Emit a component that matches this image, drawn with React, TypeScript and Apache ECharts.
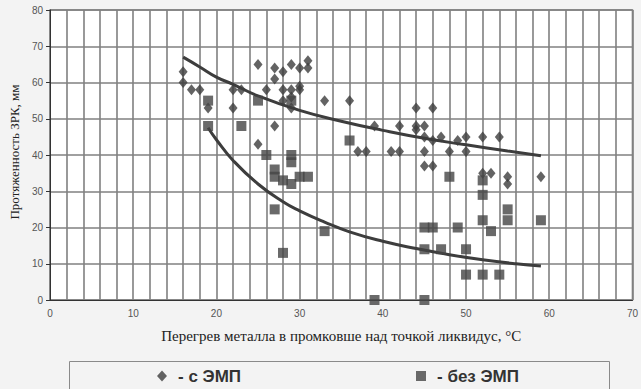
import React, { useEffect, useRef } from "react";
import * as echarts from "echarts";

const withEmpX = [16, 16, 17, 18, 19, 22, 22, 23, 25, 25, 26, 27, 27, 27, 28, 28, 28, 29, 29, 29, 29, 30, 30, 30, 31, 31, 33, 36, 37, 38, 39, 41, 42, 42, 44, 44, 44, 45, 45, 45, 45, 46, 46, 46, 47, 48, 49, 50, 50, 52, 52, 53, 54, 55, 55, 59];
const withEmpY = [63, 60, 58, 58, 53, 58, 53, 58, 65, 43, 58, 64, 61, 48, 63, 58, 55, 65, 58, 56, 53, 64, 59, 58, 66, 64, 55, 55, 41, 41, 48, 41, 48, 41, 53, 48, 47, 48, 45, 41, 37, 53, 44, 37, 45, 41, 44, 45, 41, 45, 35, 35, 45, 34, 32, 34];

const noEmpX = [19, 19, 23, 25, 26, 27, 27, 27, 28, 28, 29, 29, 29, 29, 30, 31, 33, 36, 39, 45, 45, 45, 46, 47, 48, 49, 50, 50, 52, 52, 52, 52, 53, 54, 55, 55, 59];
const noEmpY = [55, 48, 48, 55, 40, 36, 34, 25, 33, 13, 55, 40, 38, 32, 34, 34, 19, 44, 0, 20, 14, 0, 20, 14, 34, 20, 14, 7, 33, 29, 22, 7, 19, 7, 25, 22, 22];

const trendWithX = [16, 18, 20, 22, 25, 30, 35, 40, 45, 50, 55, 59];
const trendWithY = [67, 64.3, 61.5, 59.5, 56.3, 52.3, 49.3, 46.8, 44.6, 42.8, 41.1, 39.8];

const trendNoX = [19, 20, 22, 25, 28, 30, 33, 36, 40, 44, 48, 52, 56, 59];
const trendNoY = [47.5, 44.2, 38.5, 32, 27.1, 24.6, 21.5, 18.8, 16.2, 14.2, 12.5, 11.1, 10, 9.4];

const xTicks = [0, 10, 20, 30, 40, 50, 60, 70];
const yTicks = [0, 10, 20, 30, 40, 50, 60, 70, 80];

const nameWith = "- с ЭМП";
const nameNo = "- без ЭМП";

const zip = (xs: number[], ys: number[]) => xs.map((x, i) => [x, ys[i]]);

export default function App() {
  const ref = useRef<HTMLDivElement>(null);
  useEffect(() => {
    if (!ref.current) return;
    const chart = echarts.init(ref.current, null, { renderer: "svg" });
    const gridColor = "#808080";
    const labelFont = {
      color: "#555",
      fontSize: 10,
      fontFamily: "'Liberation Sans Narrow', 'Arial Narrow', 'Liberation Sans', sans-serif",
    };
    const legendText = {
      color: "#333",
      fontSize: 17,
      fontWeight: "bold",
      fontFamily: "'Liberation Sans', Arial, sans-serif",
      padding: [0, 0, 0, 6],
      lineHeight: 18,
    };
    const xMin = xTicks[0];
    const xMax = xTicks[xTicks.length - 1];
    const yMin = yTicks[0];
    const yMax = yTicks[yTicks.length - 1];
    chart.setOption({
      animation: false,
      backgroundColor: "#f3f3f3",
      grid: {
        left: 44.5,
        right: 4,
        top: 10,
        bottom: 89,
        show: true,
        backgroundColor: "#ffffff",
        borderColor: gridColor,
        borderWidth: 1.5,
      },
      xAxis: {
        type: "value",
        min: xMin,
        max: xMax,
        interval: 2,
        name: "Перегрев металла в промковше над точкой ликвидус, °С",
        nameLocation: "middle",
        nameGap: 28,
        nameTextStyle: {
          color: "#222",
          fontSize: 15,
          fontFamily: "'Liberation Serif', 'Times New Roman', serif",
        },
        axisLine: { show: true, lineStyle: { color: "#333", width: 1 } },
        axisTick: { show: false },
        axisLabel: {
          ...labelFont,
          margin: 8,
          formatter: (v: number) => (xTicks.indexOf(v) >= 0 ? String(v) : ""),
        },
        splitLine: { show: true, lineStyle: { color: gridColor, width: 1.6 } },
      },
      yAxis: {
        type: "value",
        min: yMin,
        max: yMax,
        interval: 10,
        name: "Протяженность ЗРК, мм",
        nameLocation: "middle",
        nameGap: 24,
        nameTextStyle: {
          color: "#222",
          fontSize: 13,
          fontFamily: "'Liberation Serif', 'Times New Roman', serif",
          padding: [0, 0, 0, 6],
        },
        axisLine: { show: true, lineStyle: { color: "#333", width: 1 } },
        axisTick: { show: true, length: 4, lineStyle: { color: "#333" } },
        axisLabel: { ...labelFont, margin: 7 },
        splitLine: { show: true, lineStyle: { color: gridColor, width: 1.6 } },
      },
      legend: [
        {
          data: [{ name: nameWith, icon: "diamond" }],
          left: 157,
          top: 367,
          padding: 0,
          itemWidth: 10,
          itemHeight: 11,
          textStyle: legendText,
        },
        {
          data: [{ name: nameNo, icon: "rect" }],
          left: 416,
          top: 367,
          padding: 0,
          itemWidth: 10,
          itemHeight: 10,
          textStyle: legendText,
        },
      ],
      graphic: [
        {
          type: "rect",
          shape: { x: 69.5, y: 361.5, width: 540, height: 40 },
          style: { fill: "none", stroke: "#8a8a8a", lineWidth: 1 },
          silent: true,
          z: 0,
        },
      ],
      series: [
        {
          name: "trend1",
          type: "line",
          data: zip(trendWithX, trendWithY),
          smooth: true,
          showSymbol: false,
          symbol: "none",
          lineStyle: { color: "#3d3d3d", width: 3 },
          z: 3,
        },
        {
          name: "trend2",
          type: "line",
          data: zip(trendNoX, trendNoY),
          smooth: true,
          showSymbol: false,
          symbol: "none",
          lineStyle: { color: "#3d3d3d", width: 3 },
          z: 3,
        },
        {
          name: nameWith,
          type: "scatter",
          symbol: "diamond",
          symbolSize: [9, 11],
          data: zip(withEmpX, withEmpY),
          itemStyle: { color: "#3c3c3c" },
          z: 4,
        },
        {
          name: nameNo,
          type: "scatter",
          symbol: "rect",
          symbolSize: 10,
          data: zip(noEmpX, noEmpY),
          itemStyle: { color: "#454545" },
          z: 4,
        },
      ],
    });
    return () => chart.dispose();
  }, []);
  return <div ref={ref} style={{ width: 641, height: 389, position: "absolute", left: 0, top: 0 }} />;
}
